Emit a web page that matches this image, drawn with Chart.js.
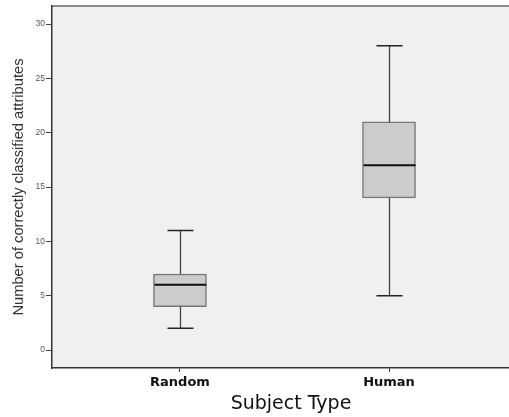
<!DOCTYPE html>
<html>
<head>
<meta charset="utf-8">
<script src="https://cdn.jsdelivr.net/npm/chart.js@4/dist/chart.umd.min.js"></script>
<style>
  html, body { margin: 0; padding: 0; background: #fff; }
  #wrap { width: 509px; height: 417px; }
</style>
</head>
<body>
<div id="wrap"><canvas id="box-chart" width="509" height="417"></canvas></div>
<script>
// box plot values
const subjectTypes = ['Random', 'Human'];
const minVals = [2, 5];
const q1Vals = [4, 14];
const medianVals = [6, 17];
const q3Vals = [7, 21];
const maxVals = [11, 28];
const yTickStep = 5;

const xTitle = 'Subject Type';
const yTitle = 'Number of correctly classified attributes';

// plot background + top frame line
const backdrop = {
  id: 'backdrop',
  beforeDraw(chart) {
    const { ctx, chartArea: a } = chart;
    ctx.save();
    ctx.fillStyle = '#f0f0f0';
    ctx.fillRect(a.left, a.top, a.right - a.left, a.bottom - a.top);
    ctx.strokeStyle = '#8a8a8a';
    ctx.lineWidth = 2;
    ctx.beginPath();
    ctx.moveTo(a.left, a.top);
    ctx.lineTo(a.right, a.top);
    ctx.stroke();
    ctx.restore();
  }
};

// whiskers and median lines, placed through the chart scales
const whiskers = {
  id: 'whiskers',
  afterDatasetsDraw(chart) {
    const { ctx, scales: { x, y } } = chart;
    ctx.save();
    subjectTypes.forEach((name, i) => {
      const cx = Math.round(x.getPixelForValue(i + 1)) + 0.5;
      const capHalf = 13;
      const boxHalf = 26;
      ctx.strokeStyle = '#444';
      ctx.lineWidth = 1.3;
      ctx.beginPath();
      ctx.moveTo(cx, y.getPixelForValue(q3Vals[i]));
      ctx.lineTo(cx, y.getPixelForValue(maxVals[i]));
      ctx.moveTo(cx, y.getPixelForValue(q1Vals[i]));
      ctx.lineTo(cx, y.getPixelForValue(minVals[i]));
      ctx.stroke();
      ctx.strokeStyle = '#222';
      ctx.lineWidth = 1.5;
      ctx.beginPath();
      ctx.moveTo(cx - capHalf, y.getPixelForValue(maxVals[i]));
      ctx.lineTo(cx + capHalf, y.getPixelForValue(maxVals[i]));
      ctx.moveTo(cx - capHalf, y.getPixelForValue(minVals[i]));
      ctx.lineTo(cx + capHalf, y.getPixelForValue(minVals[i]));
      ctx.stroke();
      ctx.strokeStyle = '#111';
      ctx.lineWidth = 2;
      ctx.beginPath();
      ctx.moveTo(cx - boxHalf, y.getPixelForValue(medianVals[i]));
      ctx.lineTo(cx + boxHalf, y.getPixelForValue(medianVals[i]));
      ctx.stroke();
    });
    ctx.restore();
  }
};

// x axis title sits a little right of the plot centre
const xAxisTitle = {
  id: 'xAxisTitle',
  afterDraw(chart) {
    const { ctx } = chart;
    ctx.save();
    ctx.font = '19px "DejaVu Sans"';
    ctx.fillStyle = '#111';
    ctx.textAlign = 'center';
    ctx.textBaseline = 'middle';
    ctx.fillText(xTitle, 291, 404);
    ctx.restore();
  }
};

new Chart(document.getElementById('box-chart'), {
  type: 'bar',
  data: {
    datasets: [{
      data: subjectTypes.map((s, i) => ({ x: i + 1, y: [q1Vals[i], q3Vals[i]] })),
      backgroundColor: '#cccccc',
      borderColor: '#777777',
      borderWidth: 1.5,
      borderSkipped: false,
      barThickness: 53
    }]
  },
  options: {
    responsive: false,
    animation: false,
    layout: { padding: { top: 6, right: 0, left: 0, bottom: 0 } },
    plugins: { legend: { display: false }, tooltip: { enabled: false } },
    scales: {
      x: {
        type: 'linear',
        offset: false,
        min: 0.388,
        max: 2.574,
        afterBuildTicks: (axis) => { axis.ticks = subjectTypes.map((s, i) => ({ value: i + 1 })); },
        afterFit: (axis) => { axis.height = 49; },
        grid: { offset: false, drawOnChartArea: false, drawTicks: true, tickLength: 4, color: '#333' },
        border: { color: '#333', width: 1.5 },
        ticks: {
          callback: (v) => subjectTypes[v - 1],
          font: { family: 'DejaVu Sans', size: 13, weight: 'bold' },
          color: '#111',
          padding: 3,
          maxRotation: 0
        }
      },
      y: {
        min: -1.656,
        max: 31.66,
        afterFit: (axis) => { axis.width = 52; },
        grid: { drawOnChartArea: false, drawTicks: true, tickLength: 6, color: '#444' },
        border: { color: '#333', width: 1.5 },
        ticks: {
          stepSize: yTickStep,
          includeBounds: false,
          font: { family: 'Liberation Sans', size: 8.5 },
          color: '#555',
          padding: 1
        },
        title: {
          display: true,
          text: yTitle,
          font: { family: 'Liberation Sans', size: 14.7 },
          color: '#333',
          padding: { top: 10, bottom: 0 }
        }
      }
    }
  },
  plugins: [backdrop, whiskers, xAxisTitle]
});
</script>
</body>
</html>
